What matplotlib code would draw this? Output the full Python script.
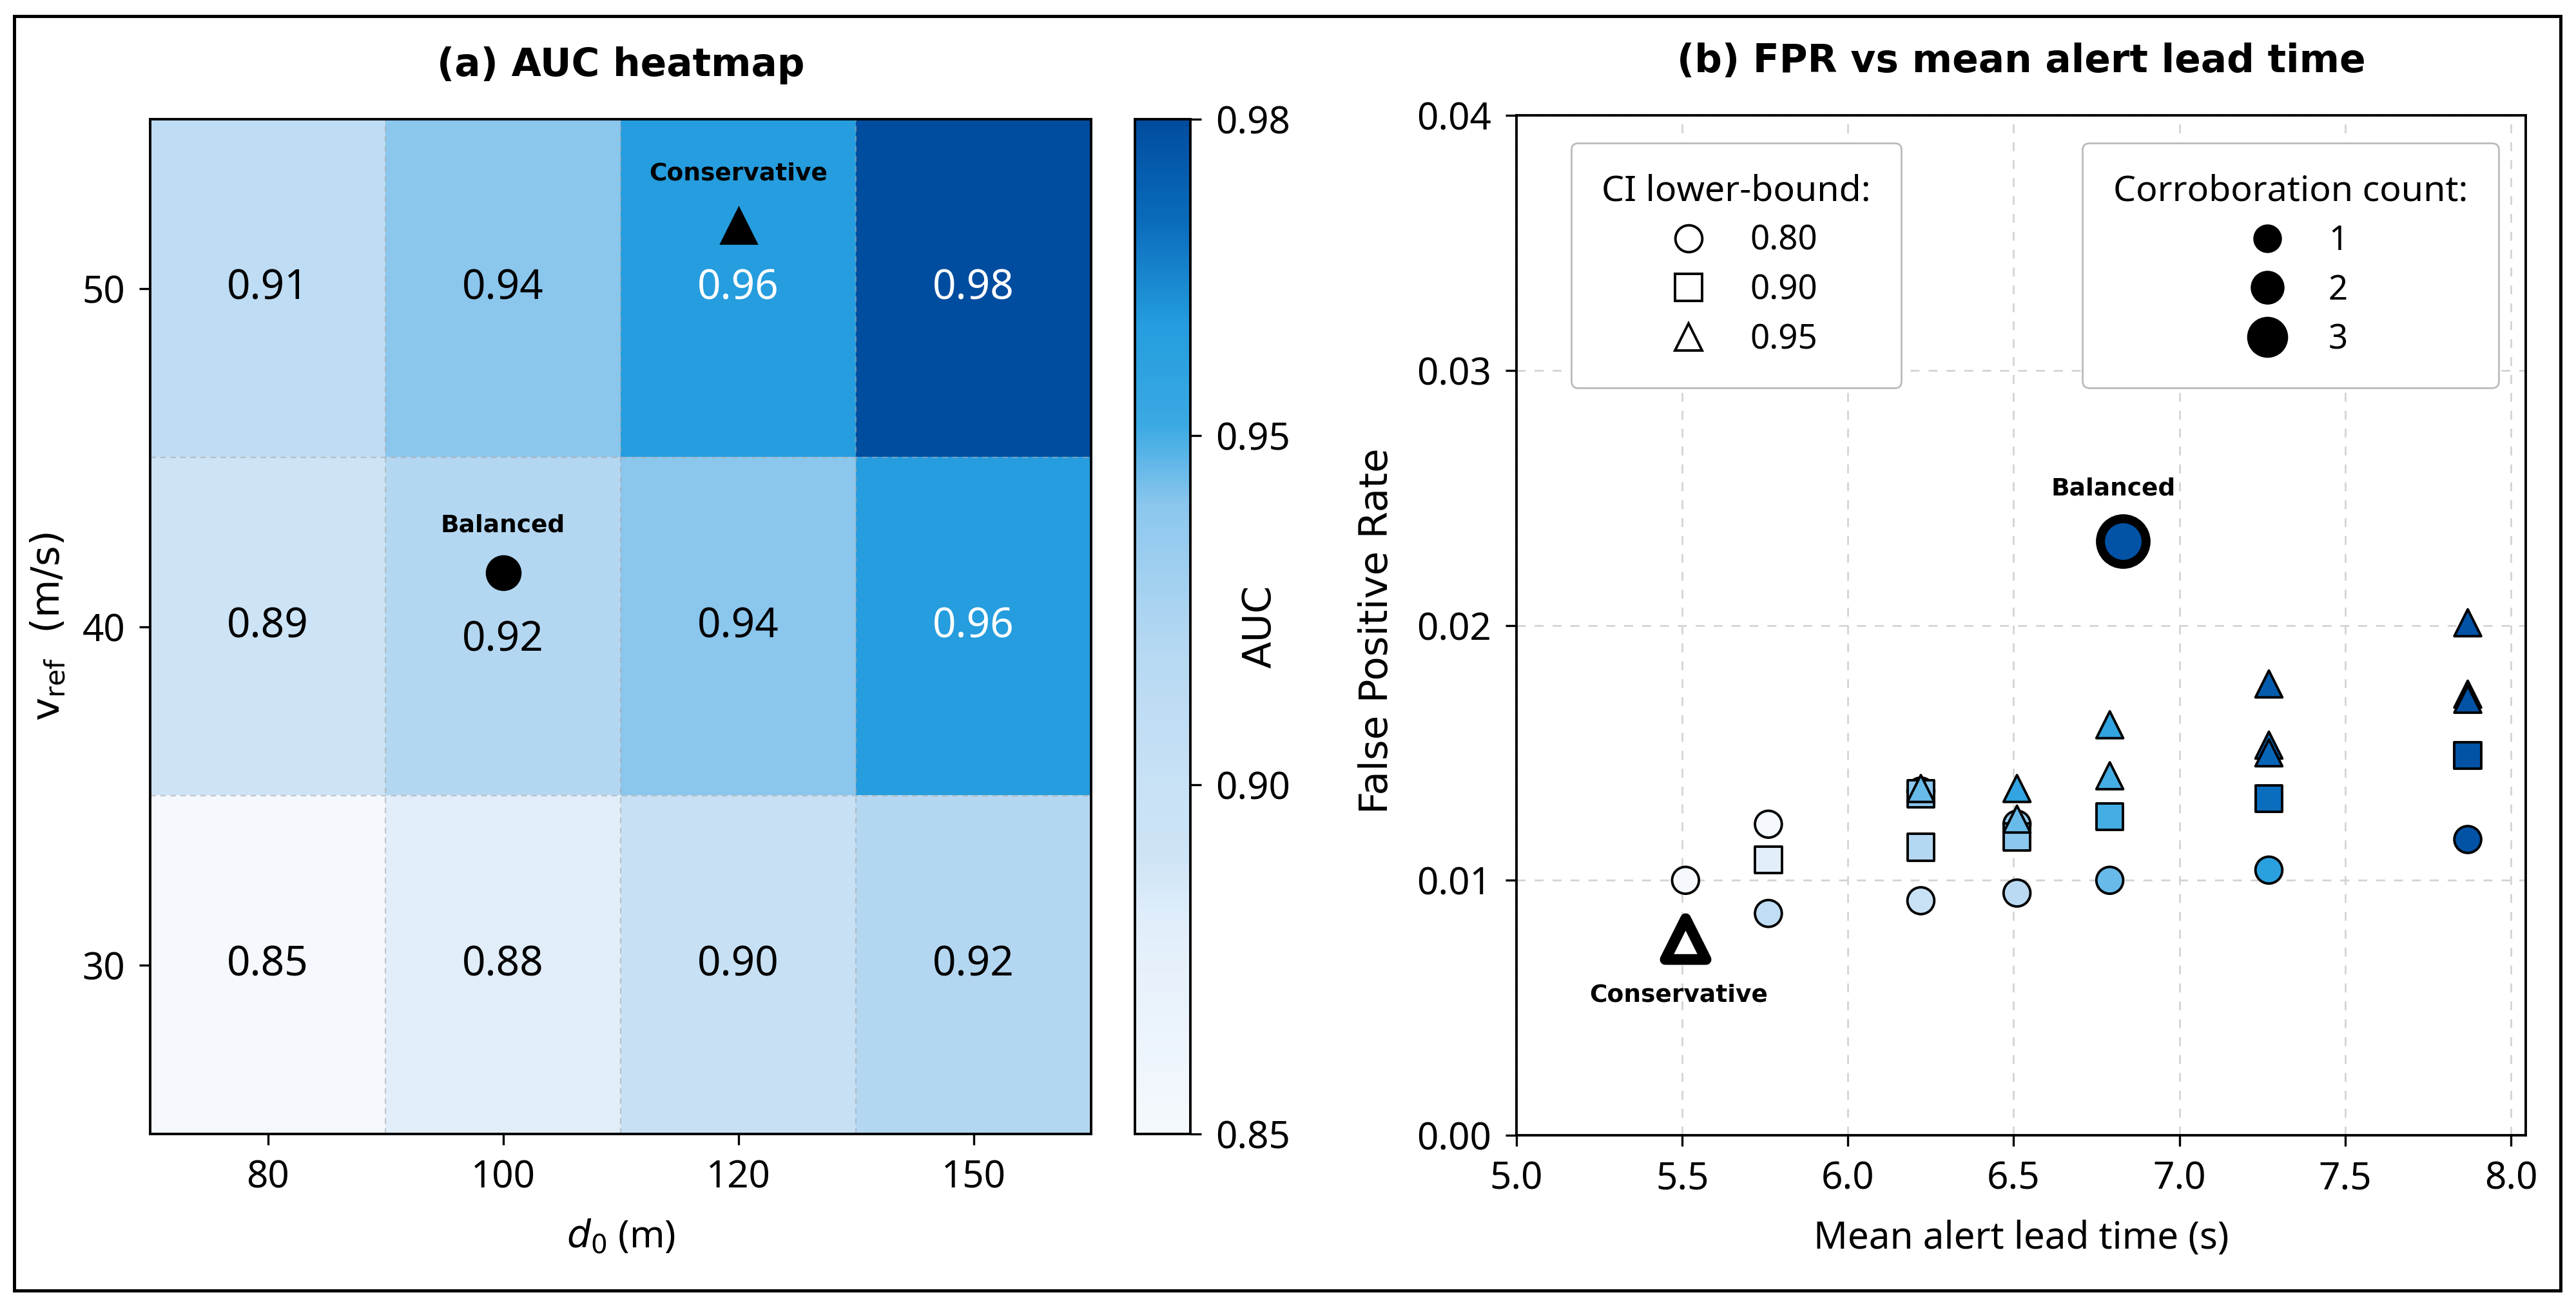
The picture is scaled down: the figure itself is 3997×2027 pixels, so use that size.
import matplotlib
matplotlib.use('Agg')
import matplotlib.pyplot as plt
import numpy as np
from matplotlib.colors import LinearSegmentedColormap, FuncNorm
from matplotlib.lines import Line2D
from matplotlib.patches import Rectangle

plt.rcParams['font.family'] = ['Noto Sans', 'DejaVu Sans']

# (a) heatmap data: rows top->bottom are v_ref = 50, 40, 30
d0_labels = ['80', '100', '120', '150']
vref_labels = ['50', '40', '30']
auc = [[0.91, 0.94, 0.96, 0.98],
       [0.89, 0.92, 0.94, 0.96],
       [0.85, 0.88, 0.90, 0.92]]

# (b) scatter data
lead_time = [5.51, 5.76, 5.76, 5.76,
             6.22, 6.22, 6.22, 6.22, 6.22,
             6.51, 6.51, 6.51, 6.51, 6.51,
             6.79, 6.79, 6.79, 6.79,
             7.27, 7.27, 7.27, 7.27, 7.27,
             7.87, 7.87, 7.87, 7.87, 7.87]
fpr = [0.0100, 0.0122, 0.0108, 0.0087,
       0.0136, 0.0135, 0.0134, 0.0113, 0.0092,
       0.0136, 0.0124, 0.0122, 0.0117, 0.0095,
       0.0161, 0.0141, 0.0125, 0.0100,
       0.0177, 0.0153, 0.0150, 0.0132, 0.0104,
       0.0201, 0.0173, 0.0171, 0.0149, 0.0116]
ci_bound = [0.80, 0.80, 0.90, 0.80,
            0.95, 0.80, 0.90, 0.90, 0.80,
            0.95, 0.95, 0.80, 0.90, 0.80,
            0.95, 0.95, 0.90, 0.80,
            0.95, 0.95, 0.95, 0.90, 0.80,
            0.95, 0.95, 0.95, 0.90, 0.80]
point_auc = [0.850, 0.850, 0.880, 0.910,
             0.945, 0.930, 0.940, 0.920, 0.900,
             0.955, 0.945, 0.935, 0.940, 0.915,
             0.955, 0.950, 0.950, 0.945,
             0.975, 0.972, 0.972, 0.970, 0.958,
             0.978, 0.978, 0.978, 0.978, 0.978]
corroboration = [1] * len(lead_time)

balanced = (6.83, 0.0233, 0.978)
conservative = (5.51, 0.0077)

ci_levels = [0.80, 0.90, 0.95]
ci_markers = {0.80: 'o', 0.90: 's', 0.95: '^'}
corr_levels = [1, 2, 3]
corr_sizes = {1: 225, 2: 320, 3: 480}

# colour map + piecewise norm like the reference colourbar
cmap = LinearSegmentedColormap.from_list('auc', [
    (0.0, '#f5f9fd'), (0.206, '#e1eefa'), (0.275, '#cde4f6'), (0.344, '#c8e1f5'),
    (0.482, '#b5d8f2'), (0.619, '#8cc7ee'), (0.70, '#3aa9e3'),
    (0.80, '#249cde'), (0.90, '#0a6cbc'), (1.0, '#004c9f')])
fwd = lambda x: np.interp(x, [0.85, 0.95, 0.98], [0.0, 0.688, 1.0])
inv = lambda y: np.interp(y, [0.0, 0.688, 1.0], [0.85, 0.95, 0.98])
norm = FuncNorm((fwd, inv), vmin=0.85, vmax=0.98)

bold = dict(family='DejaVu Sans', fontweight='bold')
wide = dict(family='DejaVu Sans')

fig = plt.figure(figsize=(19.985, 10.135), dpi=200)
ax1 = fig.add_axes([0.0583, 0.1317, 0.3653, 0.7770])
cax = fig.add_axes([0.4406, 0.1317, 0.0215, 0.7770])
ax2 = fig.add_axes([0.5887, 0.1307, 0.3918, 0.7810])

# ---- (a) heatmap ----
im = ax1.imshow(np.array(auc), cmap=cmap, norm=norm, aspect='auto')
for b in [0.5, 1.5, 2.5]:
    ax1.axvline(b, color='#a8a8a8', lw=0.8, ls=(0, (4, 3)), alpha=0.6)
for b in [0.5, 1.5]:
    ax1.axhline(b, color='#a8a8a8', lw=0.8, ls=(0, (4, 3)), alpha=0.6)
for i in range(len(vref_labels)):
    for j in range(len(d0_labels)):
        v = auc[i][j]
        dy = 0.04 if (i, j) == (1, 1) else 0.0
        ax1.text(j, i + dy, f'{v:.2f}', ha='center', va='center', fontsize=23,
                 color='white' if v >= 0.955 else 'black')
ax1.plot(2, -0.185, marker='^', ms=20, color='black', ls='')
ax1.text(2, -0.34, 'Conservative', ha='center', va='center', fontsize=13.5, **bold)
ax1.plot(1, 0.84, marker='o', ms=19, color='black', ls='')
ax1.text(1, 0.70, 'Balanced', ha='center', va='center', fontsize=13.5, **bold)
ax1.set_xticks(range(len(d0_labels)))
ax1.set_xticklabels(d0_labels)
ax1.set_yticks(range(len(vref_labels)))
ax1.set_yticklabels(vref_labels)
ax1.tick_params(labelsize=21, length=6, width=1.2, pad=8)
for s in ax1.spines.values():
    s.set_linewidth(1.4)
ax1.set_xlabel(r'$d_0$ (m)', fontsize=21, labelpad=12)
ax1.set_ylabel(r'v$_{\mathrm{ref}}$  (m/s)', fontsize=22, labelpad=8, **wide)
ax1.set_title('(a) AUC heatmap', fontsize=21.5, pad=24, **bold)

cb = fig.colorbar(im, cax=cax)
cb.set_ticks([0.85, 0.90, 0.95, 0.98])
cb.set_ticklabels(['0.85', '0.90', '0.95', '0.98'])
cb.ax.tick_params(labelsize=21, length=6, width=1.2, pad=8)
cb.outline.set_linewidth(1.4)
fig.text(1955 / 3997, 0.5205, 'AUC', rotation=90, ha='center', va='center',
         fontsize=22, **wide)

# ---- (b) scatter ----
ax2.set_axisbelow(True)
ax2.grid(True, color='#d4d4d4', lw=1.0, ls=(0, (5, 5)))
for lvl in ci_levels:
    idx = [k for k, c in enumerate(ci_bound) if c == lvl]
    ax2.scatter([lead_time[k] for k in idx], [fpr[k] for k in idx],
                c=[point_auc[k] for k in idx], cmap=cmap, norm=norm,
                s=[corr_sizes[corroboration[k]] for k in idx],
                marker=ci_markers[lvl], edgecolors='black', linewidths=1.4, zorder=3)
ax2.scatter([balanced[0]], [balanced[1]], c=[balanced[2]], cmap=cmap, norm=norm,
            s=650, marker='o', edgecolors='black', linewidths=5, zorder=4)
ax2.text(balanced[0] - 0.03, 0.02535, 'Balanced', ha='center', va='center',
         fontsize=13.5, **bold)
ax2.scatter([conservative[0]], [conservative[1]], c='white', s=520, marker='^',
            edgecolors='black', linewidths=6, zorder=4)
ax2.text(conservative[0] - 0.02, 0.0055, 'Conservative', ha='center', va='center',
         fontsize=13.5, **bold)

ax2.set_xlim(5.0, 8.045)
ax2.set_ylim(0.0, 0.04)
ax2.set_xticks(np.arange(5.0, 8.01, 0.5))
ax2.set_xticklabels([f'{t:.1f}' for t in np.arange(5.0, 8.01, 0.5)])
ax2.set_yticks([0.0, 0.01, 0.02, 0.03, 0.04])
ax2.set_yticklabels(['0.00', '0.01', '0.02', '0.03', '0.04'])
ax2.tick_params(labelsize=21, length=6, width=1.2, pad=8)
for s in ax2.spines.values():
    s.set_linewidth(1.4)
ax2.set_xlabel('Mean alert lead time (s)', fontsize=21, labelpad=12)
fig.text(2136 / 3997, 0.5170, 'False Positive Rate', rotation=90, ha='center',
         va='center', fontsize=22, **wide)
ax2.set_title('(b) FPR vs mean alert lead time', fontsize=21.5, pad=24, **bold)

h1 = [Line2D([], [], ls='', marker=ci_markers[l], mfc='white', mec='black',
             mew=1.4, ms=15, label=f'{l:.2f}') for l in ci_levels]
h2 = [Line2D([], [], ls='', marker='o', mfc='black', mec='black',
             ms=np.sqrt(corr_sizes[c]), label=str(c)) for c in corr_levels]
leg1 = ax2.legend(handles=h1, title='CI lower-bound:', loc='upper left',
                  bbox_to_anchor=(0.054, 0.973), fontsize=19, title_fontsize=20,
                  fancybox=True, edgecolor='#bbbbbb', framealpha=1.0,
                  borderpad=0.9, labelspacing=0.45, handletextpad=0.8, borderaxespad=0)
ax2.add_artist(leg1)
ax2.legend(handles=h2, title='Corroboration count:', loc='upper right',
           bbox_to_anchor=(0.973, 0.973), fontsize=19, title_fontsize=20,
           fancybox=True, edgecolor='#bbbbbb', framealpha=1.0,
           borderpad=0.9, labelspacing=0.45, handletextpad=0.8, borderaxespad=0)

fig.add_artist(Rectangle((0.0055, 0.0118), 0.9885, 0.9758, transform=fig.transFigure,
                         fill=False, lw=1.8, ec='black'))

fig.savefig('out.png', dpi=200)
